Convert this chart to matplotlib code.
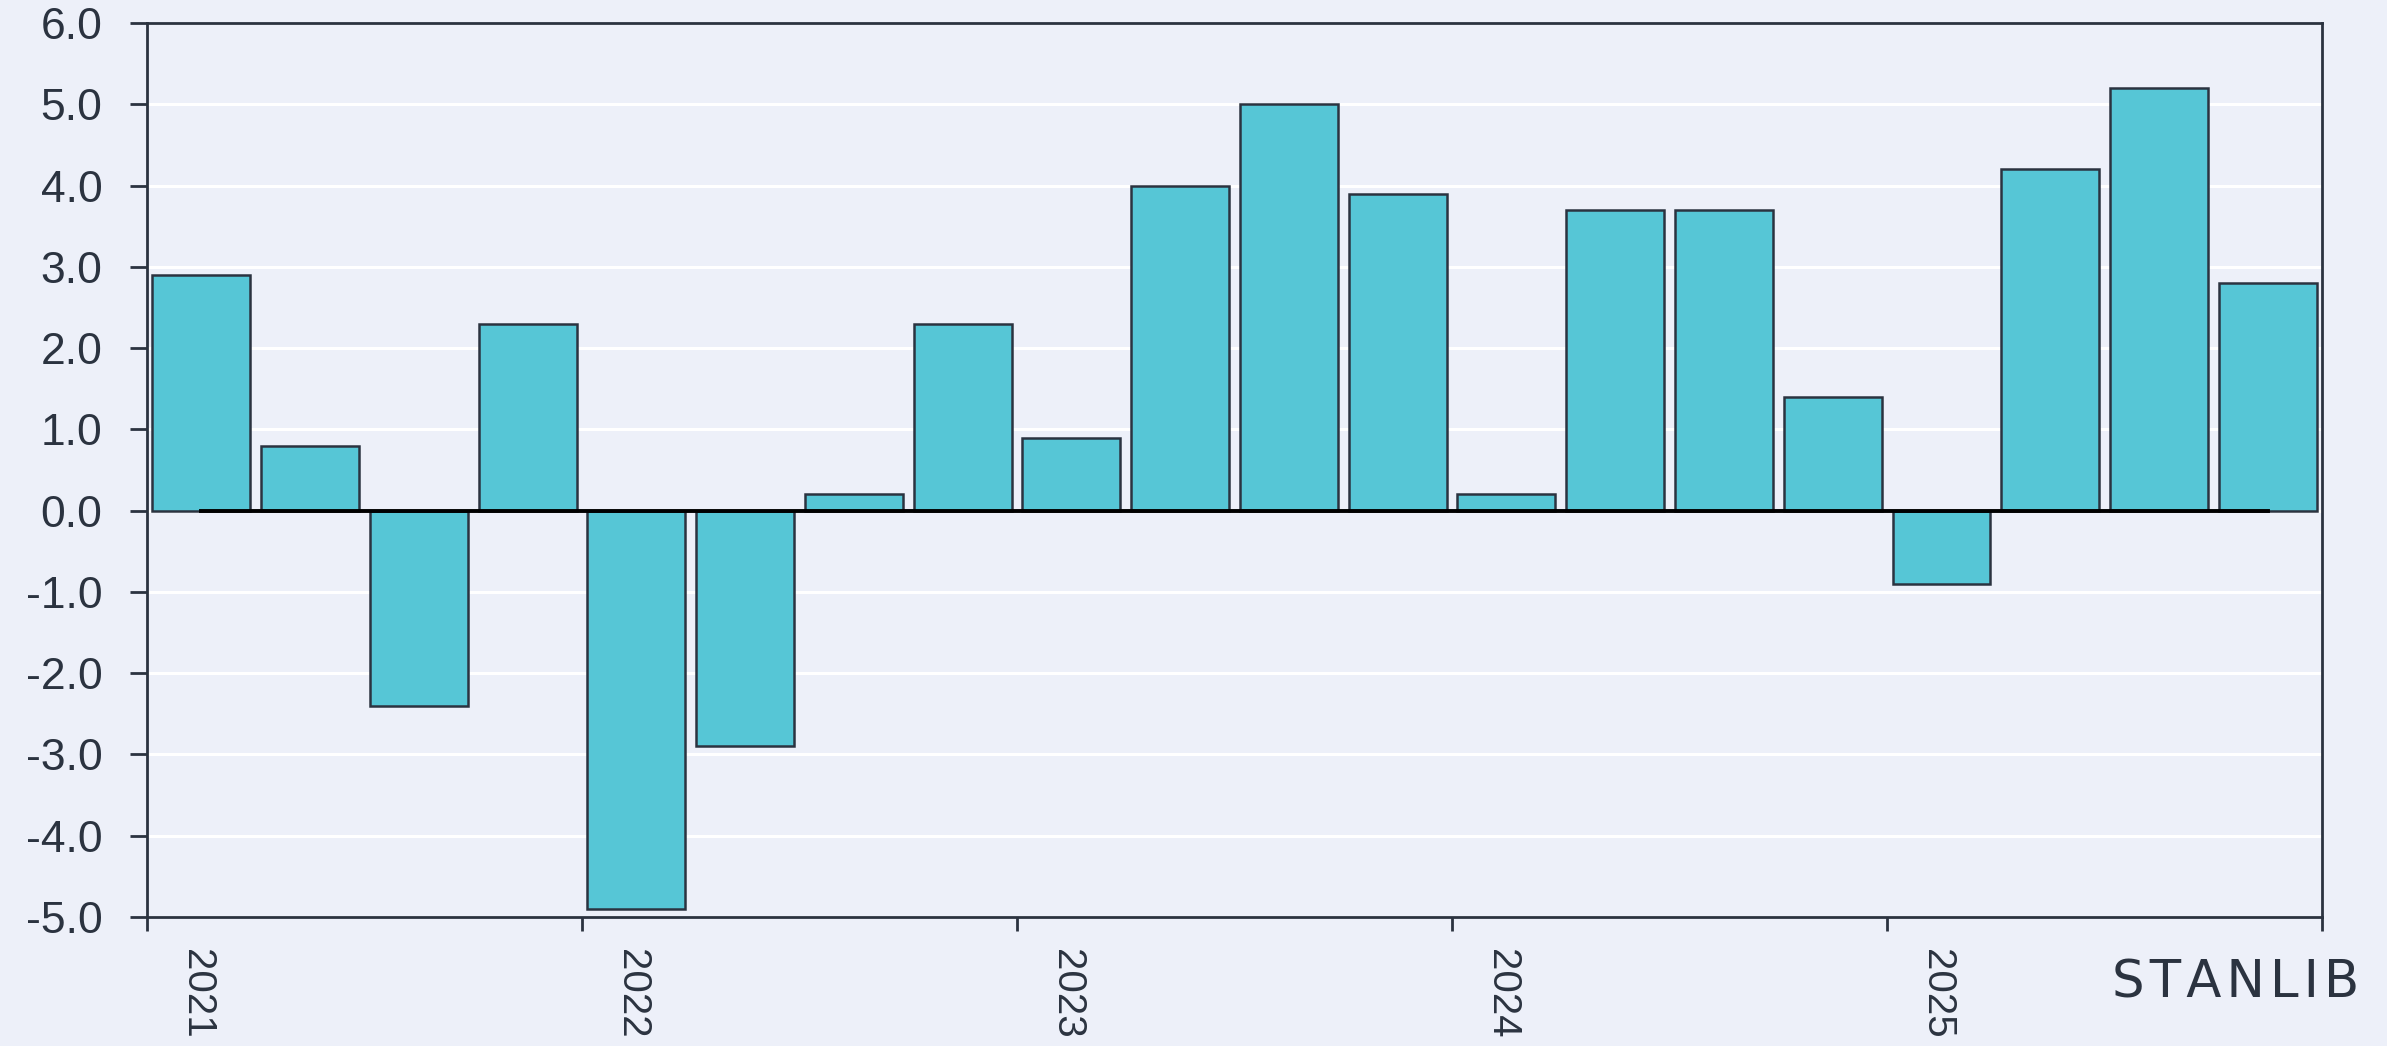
import matplotlib
matplotlib.use('Agg')
import matplotlib.pyplot as plt
import matplotlib.transforms as mtransforms
import numpy as np

# quarterly values, 2021Q1 .. 2025Q4
quarters = ['2021Q1', '2021Q2', '2021Q3', '2021Q4',
            '2022Q1', '2022Q2', '2022Q3', '2022Q4',
            '2023Q1', '2023Q2', '2023Q3', '2023Q4',
            '2024Q1', '2024Q2', '2024Q3', '2024Q4',
            '2025Q1', '2025Q2', '2025Q3', '2025Q4']
values = [2.9, 0.8, -2.4, 2.3,
          -4.9, -2.9, 0.2, 2.3,
          0.9, 4.0, 5.0, 3.9,
          0.2, 3.7, 3.7, 1.4,
          -0.9, 4.2, 5.2, 2.8]
year_ticks = [2021, 2022, 2023, 2024, 2025, 2026]
year_labels = ['2021', '2022', '2023', '2024', '2025', '']
y_ticks = np.arange(-5, 7, 1)

bg = '#EDF0F9'
bar_col = '#56C6D6'
dark = '#2B3340'

plt.rcParams['font.family'] = ['Liberation Sans', 'DejaVu Sans']

fig = plt.figure(figsize=(23.87, 10.46), dpi=100, facecolor=bg)
ax = fig.add_axes([0.0616, 0.1233, 0.9112, 0.8547])
ax.set_facecolor(bg)

x = np.array([int(q[:4]) + (int(q[-1]) - 0.5) / 4 for q in quarters])

ax.set_axisbelow(True)
ax.grid(axis='y', color='white', linewidth=2.2)
ax.bar(x, values, width=0.9 / 4, color=bar_col, edgecolor=dark, linewidth=1.8, zorder=2)
ax.plot([x[0], x[-1]], [0, 0], color='black', linewidth=2.8, zorder=3)

ax.set_xlim(2021, 2026)
ax.set_ylim(-5, 6)
ax.set_yticks(y_ticks)
ax.set_yticklabels(['%.1f' % v for v in y_ticks])
ax.set_xticks(year_ticks)
ax.set_xticklabels(year_labels, rotation=270, ha='center', va='top')

for s in ax.spines.values():
    s.set_color(dark)
    s.set_linewidth(2)

ax.tick_params(axis='y', colors=dark, labelsize=32, length=12, width=2, pad=20)
ax.tick_params(axis='x', colors=dark, labelsize=29, length=10, width=2, pad=13)

offset = mtransforms.ScaledTranslation(0.5, 0, fig.dpi_scale_trans)
for lab in ax.get_xticklabels():
    lab.set_transform(lab.get_transform() + offset)

fig.text(0.9885, 0.036, '\u200a'.join('STANLIB'), ha='right', va='bottom', fontsize=37,
         color=dark, family=['DejaVu Sans'])

fig.savefig('out.png', dpi=100, facecolor=bg)
